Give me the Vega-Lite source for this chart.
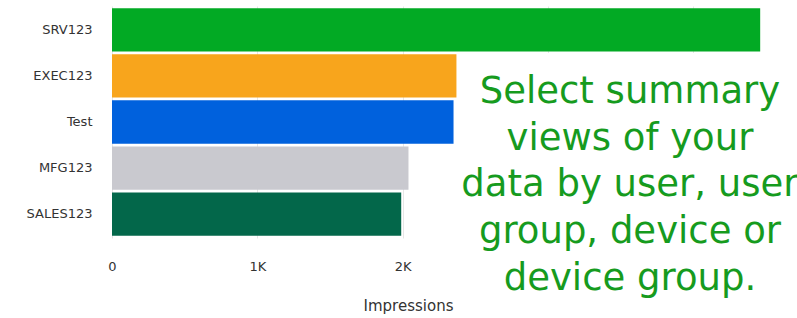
{
  "$schema": "https://vega.github.io/schema/vega-lite/v6.json",
  "autosize": {"type": "none"},
  "padding": {"left": 112, "top": 6, "right": 31, "bottom": 80},
  "width": 654,
  "height": 232,
  "background": "white",
  "config": {"view": {"stroke": null}},
  "datasets": {
    "bars": [
      {"group": "SRV123", "impressions": 4460},
      {"group": "EXEC123", "impressions": 2370},
      {"group": "Test", "impressions": 2350},
      {"group": "MFG123", "impressions": 2040},
      {"group": "SALES123", "impressions": 1990}
    ],
    "note": [
      {"note": ["Select summary", "views of your", "data by user, user", "group, device or", "device group."]}
    ]
  },
  "layer": [
    {
      "data": {"name": "bars"},
      "mark": {"type": "bar"},
      "encoding": {
        "y": {
          "field": "group", "type": "nominal",
          "sort": ["SRV123", "EXEC123", "Test", "MFG123", "SALES123"],
          "scale": {"paddingInner": 0.06, "paddingOuter": 0.05},
          "axis": {"title": null, "ticks": false, "domain": false, "labelPadding": 20, "labelFont": "DejaVu Sans", "labelFontSize": 13, "labelColor": "#333333"}
        },
        "x": {
          "field": "impressions", "type": "quantitative",
          "scale": {"domain": [0, 4500], "nice": false},
          "axis": {
            "values": [0, 1000, 2000, 3000, 4000],
            "labelExpr": "datum.value == 0 ? '0' : datum.value > 2000 ? '' : (datum.value / 1000) + 'K'",
            "labelFlush": false,
            "ticks": false, "domain": false,
            "gridColor": "#e6e6e6",
            "labelPadding": 22, "labelFont": "DejaVu Sans", "labelFontSize": 13, "labelColor": "#333333",
            "title": "Impressions", "titleFont": "DejaVu Sans", "titleFontSize": 15, "titleFontWeight": "normal", "titleColor": "#333333",
            "titleX": 296, "titleY": 72, "titleBaseline": "alphabetic", "titleAlign": "center"
          }
        },
        "color": {
          "field": "group", "type": "nominal", "legend": null,
          "scale": {
            "domain": ["SRV123", "EXEC123", "Test", "MFG123", "SALES123"],
            "range": ["#02AA24", "#F8A51C", "#0061DD", "#C9C9CF", "#03674A"]
          }
        }
      }
    },
    {
      "data": {"name": "note"},
      "mark": {"type": "rect", "color": "white", "clip": false},
      "encoding": {
        "x": {"datum": 2385, "type": "quantitative"},
        "x2": {"datum": 5200},
        "y": {"value": 47},
        "y2": {"value": 330}
      }
    },
    {
      "data": {"name": "note"},
      "mark": {"type": "text", "font": "DejaVu Sans", "fontSize": 37, "color": "#169B1E", "align": "center", "baseline": "alphabetic", "lineHeight": 46.7, "clip": false},
      "encoding": {
        "text": {"field": "note"},
        "x": {"datum": 3564, "type": "quantitative"},
        "y": {"value": 97}
      }
    }
  ]
}
